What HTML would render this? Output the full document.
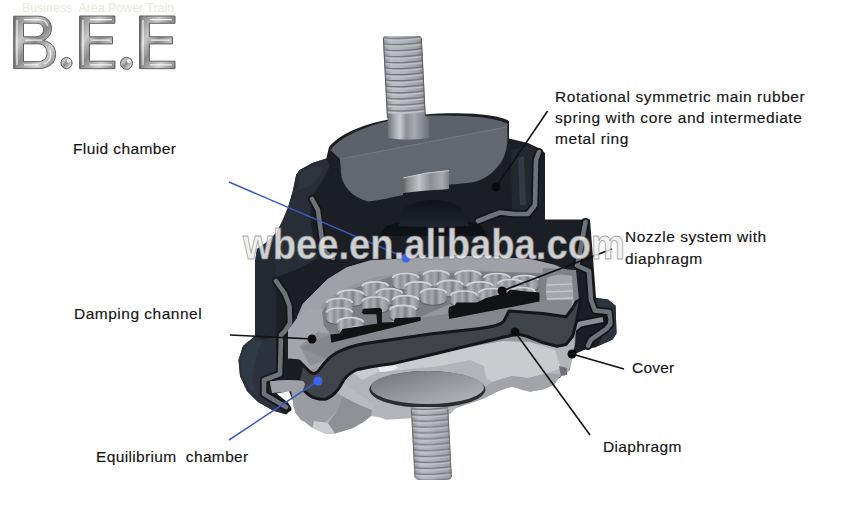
<!DOCTYPE html>
<html><head><meta charset="utf-8"><style>
html,body{margin:0;padding:0;background:#fff;}
body{width:868px;height:519px;overflow:hidden;position:relative;font-family:"Liberation Sans",sans-serif;}
svg{position:absolute;left:0;top:0;}
.lb{position:absolute;font-family:"Liberation Sans",sans-serif;font-size:15.5px;color:#141414;-webkit-text-stroke:0.15px #141414;white-space:nowrap;line-height:21px;}
</style></head><body>
<svg width="868" height="519" viewBox="0 0 868 519">
<defs>
<linearGradient id="bolt" x1="0" x2="1" y1="0" y2="0">
<stop offset="0" stop-color="#7a7d83"/><stop offset="0.2" stop-color="#a7aaaf"/><stop offset="0.5" stop-color="#9a9da2"/><stop offset="0.8" stop-color="#8a8d92"/><stop offset="1" stop-color="#74777d"/>
</linearGradient>
<linearGradient id="shank" x1="0" x2="1" y1="0" y2="0">
<stop offset="0" stop-color="#6c6f75"/><stop offset="0.15" stop-color="#9fa2a7"/><stop offset="0.3" stop-color="#c9cbcf"/><stop offset="0.45" stop-color="#8d9095"/><stop offset="0.65" stop-color="#a5a8ad"/><stop offset="1" stop-color="#6f7278"/>
</linearGradient>
<linearGradient id="chrome" x1="0" x2="1" y1="0" y2="1">
<stop offset="0" stop-color="#7c7c7c"/><stop offset="0.3" stop-color="#c8c8c8"/><stop offset="0.5" stop-color="#8a8a8a"/><stop offset="0.75" stop-color="#d0d0d0"/><stop offset="1" stop-color="#808080"/>
</linearGradient>
<linearGradient id="bowl" x1="0" x2="1" y1="0" y2="0">
<stop offset="0" stop-color="#a4a6ac"/><stop offset="0.45" stop-color="#c0c2c7"/><stop offset="1" stop-color="#b3b5ba"/>
</linearGradient>
<linearGradient id="disc" x1="0" x2="1" y1="0" y2="1">
<stop offset="0" stop-color="#707277"/><stop offset="0.5" stop-color="#95979c"/><stop offset="1" stop-color="#b8babe"/>
</linearGradient>
<linearGradient id="plate" x1="0" x2="0" y1="0" y2="1">
<stop offset="0" stop-color="#8d8f95"/><stop offset="1" stop-color="#9fa1a6"/>
</linearGradient>
<linearGradient id="boss" x1="0" x2="1" y1="0" y2="0">
<stop offset="0" stop-color="#8a8c91"/><stop offset="0.15" stop-color="#b4b6ba"/><stop offset="0.3" stop-color="#8f9196"/><stop offset="0.45" stop-color="#a9abb0"/><stop offset="0.6" stop-color="#7e8085"/><stop offset="0.75" stop-color="#b0b2b6"/><stop offset="1" stop-color="#8c8e93"/>
</linearGradient>
<linearGradient id="dome" x1="0" x2="0" y1="0" y2="1">
<stop offset="0" stop-color="#111419"/><stop offset="0.6" stop-color="#181d25"/><stop offset="1" stop-color="#1f2631"/>
</linearGradient>
<linearGradient id="nut" x1="0" x2="1" y1="0" y2="0">
<stop offset="0" stop-color="#5f6267"/><stop offset="0.12" stop-color="#8e9095"/><stop offset="0.35" stop-color="#c2c4c7"/><stop offset="0.6" stop-color="#8a8d92"/><stop offset="0.85" stop-color="#a9abaf"/><stop offset="1" stop-color="#7c7f84"/>
</linearGradient>
<linearGradient id="boltb" x1="0" x2="1" y1="0" y2="0">
<stop offset="0" stop-color="#8d9096"/><stop offset="0.18" stop-color="#babdc1"/><stop offset="0.5" stop-color="#b0b3b7"/><stop offset="0.85" stop-color="#9fa2a7"/><stop offset="1" stop-color="#85888e"/>
</linearGradient>
<pattern id="thread" x="0" y="0" width="39" height="6.05" patternUnits="userSpaceOnUse">
<rect width="39" height="6.05" fill="url(#boltb)"/>
<path d="M0 1.6 Q14 3.6 39 0.4" stroke="#70737a" stroke-width="1.2" fill="none"/>
<path d="M0 3.4 Q14 5.4 39 2.2" stroke="#c6c9cd" stroke-width="1.1" fill="none"/>
</pattern>
<pattern id="thread2" x="0" y="0" width="39" height="5.9" patternUnits="userSpaceOnUse">
<rect width="39" height="5.9" fill="url(#boltb)"/>
<path d="M0 1.6 Q14 3.6 39 0.4" stroke="#70737a" stroke-width="1.2" fill="none"/>
<path d="M0 3.4 Q14 5.4 39 2.2" stroke="#c6c9cd" stroke-width="1.1" fill="none"/>
</pattern>
</defs>
<g id="mount">
<!-- top bolt -->
<g transform="translate(383 36) skewX(2.9)">
<rect x="0" y="0" width="38.5" height="82" rx="2" fill="url(#thread)"/>
<path d="M0.3 2 L0.3 82 M38.2 2 L38.2 82" stroke="#5d6066" stroke-width="1.1"/>
</g>

<!-- dark body -->
<path fill="#1b1f25" d="M329 147 C345 128 385 116 440 113.5 C480 112.5 500 116 509 121 L509 138.5 L528 143 L540.5 149 L545 153 L545 219.5 L590 219.5 L593.5 264 L596 297.7 L608 299.5 L615.6 305.7 L616.5 333.5 L612.5 339.6 L595.5 347.3 L584 350 L575 354 L560 378 L300 405 L289 412 L286 414.5 L274 411 L258 402 L247 391 L240 376 L238.5 360 L243 346 L255 336 L255 262 L257 249 L267.3 241.7 L276.6 232.5 L282.4 221 L288.2 207 L292.8 191 L296.2 174.7 L299.7 170 L312.4 163 L326.3 158.5 Z"/>
<!-- left shoulder face -->
<path fill="#272e37" d="M299.7 170 L312.4 163 L326.3 158.5 L330 166 L322 182 L312 196 L310 215 L314 245 L318 258 L300 268 L280 276 L262 280 L255 280 L255 262 L257 249 L267.3 241.7 L276.6 232.5 L282.4 221 L288.2 207 L292.8 191 L296.2 174.7 Z"/>
<path fill="#2e353f" d="M300 172 L314 166 L324 168 L314 184 L298 190 Z"/>
<!-- left flange outer face -->
<path fill="#29323d" d="M255 336 L276 336 L277 372 L263 377 L260 395 L278 407 L283 413 L274 411 L258 402 L247 391 L240 376 L238.5 360 L243 346 Z"/>
<path fill="#303a46" d="M244 350 L252 340 L262 340 L256 356 L252 380 L258 396 L250 390 L242 375 L241 360 Z"/>
<!-- left side vertical face -->
<path fill="#232932" d="M255 262 L262 252 L276 248 L276 336 L262 340 L255 336 Z"/>
<!-- right flange face -->
<path fill="#2a333f" d="M596 299 L608 299.5 L615.6 305.7 L616.5 333.5 L612.5 339.6 L598 346 L604 332 L610 324 L610 313 L596 308 Z"/>
<!-- right upper face -->
<path fill="#23282f" d="M511 150 L528 146 L540 151 L541 205 L530 212 L512 211 Z"/>
<path fill="#343a43" d="M518 158 L524 156 L526 205 L520 205 Z"/>

<!-- cap top face -->
<path fill="#5d6169" d="M330.5 150 C342 134 380 119 420 116 C460 114.5 495 117 508 124 L507 127 L340 159 Z"/>
<!-- cap cut face -->
<path fill="#63676e" d="M340 159 L507 126 C508.5 140 507 152 501.7 161.2 C496 170 488 177.5 476 181.5 C466 183.5 456 184.2 449.2 184.4 L449 189 L403 192 L403 195 C392 197 380 200.5 368 201.5 C352 197 342 186 341 173 Z"/>
<path d="M340 159 L507 127" stroke="#757981" stroke-width="1"/>
<!-- nut -->
<path fill="url(#nut)" d="M403 178 Q426 172 449 170.6 L449 189 Q426 190 403 193 Z"/>
<path d="M403 178 Q426 172 449 170.6" stroke="#c9cbce" stroke-width="1" fill="none"/>
<!-- bolt shank -->
<path fill="url(#shank)" d="M387.5 114 L424 114 L429 120 L429 138 Q408 141 388 138 Z"/>
<!-- dark cavity under cap -->
<path fill="#0e1115" d="M378 236 L386 226 L400 222 L470 222 L482 226 L488 236 Z"/>
<path fill="url(#dome)" d="M399 226 L401 214 Q407 201 432 200 Q456 200.5 463 210 L469 226 Q434 228 399 226 Z"/>
<!-- metal ring strips -->
<g fill="none" stroke-linejoin="round" stroke-linecap="round">
<path stroke="#121418" stroke-width="8" d="M312 199 L318 210 L322 240 L325 252 L333 258 M276 281 L285 294 L289.5 306 L290 323 L285 331 L281 335 L280 374 L264 380 L264 394 L286 407"/>
<path stroke="#6e7279" stroke-width="4.6" d="M312 199 L318 210 L322 240 L325 252 L333 258 M276 281 L285 294 L289.5 306 L290 323 L285 331 L281 335 L280 374 L264 380 L264 394 L286 407"/>
<path stroke="#121418" stroke-width="8" d="M539 152 L536 160 L535 205 L528 214 L514 214 L500 212.5 L478 221 M585.5 222 L578.6 259.4 L577 265.5 L589 271 L591 300 L595 310.5 L609.4 312 L610.4 324 L606.4 328.8 L591 339.6 L588 345.8"/>
<path stroke="#6e7279" stroke-width="4.6" d="M539 152 L536 160 L535 205 L528 214 L514 214 L500 212.5 L478 221 M585.5 222 L578.6 259.4 L577 265.5 L589 271 L591 300 L595 310.5 L609.4 312 L610.4 324 L606.4 328.8 L591 339.6 L588 345.8"/>
</g>

<!-- right cover flange strip -->
<path d="M566 336 L580 324 L604 319.5" fill="none" stroke="#121418" stroke-width="9" stroke-linejoin="round" stroke-linecap="round"/>
<path d="M566 336 L580 324 L603 319.5" fill="none" stroke="#8b8e93" stroke-width="5" stroke-linejoin="round"/>
<!-- interior silver region -->
<path fill="#94969c" d="M295 350 L295 331 L297 317.4 L302.8 304 L314.3 292.4 L327.8 279 L347 267.3 L370 260.6 L429 257 L480 256 L530 259 L555 265 L572 272 L575 300 L576 330 L575 345 L572 357 L570 370 L556 380 L537 389 L509 386 L481 396 L440 405 L411 411 L388 418 L372 415 L361 423 L328 433 L309 425 L300 410 L295 395 Z"/>
<!-- plate rim band -->
<path fill="#9fa1a7" d="M297 317 L302.8 304 L314.3 292.4 L327.8 279 L347 267.3 L370 260.6 L429 257 L480 256 L530 259 L555 265 L565 270 L540 274 L480 270 L420 271 L375 277 L345 288 L325 302 L312 318 L305 330 Z"/>
<!-- left socket -->
<path fill="#a3a5aa" d="M288 330 L297 318 L308 310 L322 308 L330 318 L334 340 L336 352 L320 366 L310 370 L300 362 L288 360 Z"/>
<path fill="#8f9196" d="M300 346 L318 332 L330 334 L334 350 L322 362 L310 366 Z"/>
<!-- holes -->
<path fill="#7b7d82" d="M322 312 L330 300 L347.6 290.6 L393.7 275.8 L480 271.5 L540 273 L556 280 L556 292 L520 290 L450 304 L420 317 L332 336 L324 326 Z"/>
<g>
<path d="M392.7 278.0 A13 4.5 0 0 1 418.7 278.0 L418.7 285.5 A13 4.5 0 0 1 392.7 285.5 Z" fill="url(#boss)"/>
<path d="M392.7 278.0 A13 4.5 0 0 1 418.7 278.0" fill="none" stroke="#d3d5d8" stroke-width="1.7"/>
<path d="M418.7 285.5 A13 4.5 0 0 1 392.7 285.5" fill="none" stroke="#5e6166" stroke-width="1.1"/>
<path d="M423.1 275.2 A13 4.5 0 0 1 449.1 275.2 L449.1 282.7 A13 4.5 0 0 1 423.1 282.7 Z" fill="url(#boss)"/>
<path d="M423.1 275.2 A13 4.5 0 0 1 449.1 275.2" fill="none" stroke="#d3d5d8" stroke-width="1.7"/>
<path d="M449.1 282.7 A13 4.5 0 0 1 423.1 282.7" fill="none" stroke="#5e6166" stroke-width="1.1"/>
<path d="M454.9 275.2 A13 4.5 0 0 1 480.9 275.2 L480.9 282.7 A13 4.5 0 0 1 454.9 282.7 Z" fill="url(#boss)"/>
<path d="M454.9 275.2 A13 4.5 0 0 1 480.9 275.2" fill="none" stroke="#d3d5d8" stroke-width="1.7"/>
<path d="M480.9 282.7 A13 4.5 0 0 1 454.9 282.7" fill="none" stroke="#5e6166" stroke-width="1.1"/>
<path d="M484.0 278.0 A13 4.5 0 0 1 510.0 278.0 L510.0 285.5 A13 4.5 0 0 1 484.0 285.5 Z" fill="url(#boss)"/>
<path d="M484.0 278.0 A13 4.5 0 0 1 510.0 278.0" fill="none" stroke="#d3d5d8" stroke-width="1.7"/>
<path d="M510.0 285.5 A13 4.5 0 0 1 484.0 285.5" fill="none" stroke="#5e6166" stroke-width="1.1"/>
<path d="M512.0 280.0 A13 4.5 0 0 1 538.0 280.0 L538.0 287.5 A13 4.5 0 0 1 512.0 287.5 Z" fill="url(#boss)"/>
<path d="M512.0 280.0 A13 4.5 0 0 1 538.0 280.0" fill="none" stroke="#d3d5d8" stroke-width="1.7"/>
<path d="M538.0 287.5 A13 4.5 0 0 1 512.0 287.5" fill="none" stroke="#5e6166" stroke-width="1.1"/>
<path d="M362.3 286.3 A13 4.5 0 0 1 388.3 286.3 L388.3 293.8 A13 4.5 0 0 1 362.3 293.8 Z" fill="url(#boss)"/>
<path d="M362.3 286.3 A13 4.5 0 0 1 388.3 286.3" fill="none" stroke="#d3d5d8" stroke-width="1.7"/>
<path d="M388.3 293.8 A13 4.5 0 0 1 362.3 293.8" fill="none" stroke="#5e6166" stroke-width="1.1"/>
<path d="M405.1 286.3 A13 4.5 0 0 1 431.1 286.3 L431.1 293.8 A13 4.5 0 0 1 405.1 293.8 Z" fill="url(#boss)"/>
<path d="M405.1 286.3 A13 4.5 0 0 1 431.1 286.3" fill="none" stroke="#d3d5d8" stroke-width="1.7"/>
<path d="M431.1 293.8 A13 4.5 0 0 1 405.1 293.8" fill="none" stroke="#5e6166" stroke-width="1.1"/>
<path d="M437.0 284.9 A13 4.5 0 0 1 463.0 284.9 L463.0 292.4 A13 4.5 0 0 1 437.0 292.4 Z" fill="url(#boss)"/>
<path d="M437.0 284.9 A13 4.5 0 0 1 463.0 284.9" fill="none" stroke="#d3d5d8" stroke-width="1.7"/>
<path d="M463.0 292.4 A13 4.5 0 0 1 437.0 292.4" fill="none" stroke="#5e6166" stroke-width="1.1"/>
<path d="M467.0 286.3 A13 4.5 0 0 1 493.0 286.3 L493.0 293.8 A13 4.5 0 0 1 467.0 293.8 Z" fill="url(#boss)"/>
<path d="M467.0 286.3 A13 4.5 0 0 1 493.0 286.3" fill="none" stroke="#d3d5d8" stroke-width="1.7"/>
<path d="M493.0 293.8 A13 4.5 0 0 1 467.0 293.8" fill="none" stroke="#5e6166" stroke-width="1.1"/>
<path d="M497.8 284.0 A13 4.5 0 0 1 523.8 284.0 L523.8 291.5 A13 4.5 0 0 1 497.8 291.5 Z" fill="url(#boss)"/>
<path d="M497.8 284.0 A13 4.5 0 0 1 523.8 284.0" fill="none" stroke="#d3d5d8" stroke-width="1.7"/>
<path d="M523.8 291.5 A13 4.5 0 0 1 497.8 291.5" fill="none" stroke="#5e6166" stroke-width="1.1"/>
<path d="M337.4 294.6 A13 4.5 0 0 1 363.4 294.6 L363.4 302.1 A13 4.5 0 0 1 337.4 302.1 Z" fill="url(#boss)"/>
<path d="M337.4 294.6 A13 4.5 0 0 1 363.4 294.6" fill="none" stroke="#d3d5d8" stroke-width="1.7"/>
<path d="M363.4 302.1 A13 4.5 0 0 1 337.4 302.1" fill="none" stroke="#5e6166" stroke-width="1.1"/>
<path d="M376.1 293.2 A13 4.5 0 0 1 402.1 293.2 L402.1 300.7 A13 4.5 0 0 1 376.1 300.7 Z" fill="url(#boss)"/>
<path d="M376.1 293.2 A13 4.5 0 0 1 402.1 293.2" fill="none" stroke="#d3d5d8" stroke-width="1.7"/>
<path d="M402.1 300.7 A13 4.5 0 0 1 376.1 300.7" fill="none" stroke="#5e6166" stroke-width="1.1"/>
<path d="M420.4 293.2 A13 4.5 0 0 1 446.4 293.2 L446.4 300.7 A13 4.5 0 0 1 420.4 300.7 Z" fill="url(#boss)"/>
<path d="M420.4 293.2 A13 4.5 0 0 1 446.4 293.2" fill="none" stroke="#d3d5d8" stroke-width="1.7"/>
<path d="M446.4 300.7 A13 4.5 0 0 1 420.4 300.7" fill="none" stroke="#5e6166" stroke-width="1.1"/>
<path d="M450.8 295.5 A13 4.5 0 0 1 476.8 295.5 L476.8 303.0 A13 4.5 0 0 1 450.8 303.0 Z" fill="url(#boss)"/>
<path d="M450.8 295.5 A13 4.5 0 0 1 476.8 295.5" fill="none" stroke="#d3d5d8" stroke-width="1.7"/>
<path d="M476.8 303.0 A13 4.5 0 0 1 450.8 303.0" fill="none" stroke="#5e6166" stroke-width="1.1"/>
<path d="M479.0 293.0 A13 4.5 0 0 1 505.0 293.0 L505.0 300.5 A13 4.5 0 0 1 479.0 300.5 Z" fill="url(#boss)"/>
<path d="M479.0 293.0 A13 4.5 0 0 1 505.0 293.0" fill="none" stroke="#d3d5d8" stroke-width="1.7"/>
<path d="M505.0 300.5 A13 4.5 0 0 1 479.0 300.5" fill="none" stroke="#5e6166" stroke-width="1.1"/>
<path d="M509.0 292.0 A13 4.5 0 0 1 535.0 292.0 L535.0 299.5 A13 4.5 0 0 1 509.0 299.5 Z" fill="url(#boss)"/>
<path d="M509.0 292.0 A13 4.5 0 0 1 535.0 292.0" fill="none" stroke="#d3d5d8" stroke-width="1.7"/>
<path d="M535.0 299.5 A13 4.5 0 0 1 509.0 299.5" fill="none" stroke="#5e6166" stroke-width="1.1"/>
<path d="M326.4 302.9 A13 4.5 0 0 1 352.4 302.9 L352.4 310.4 A13 4.5 0 0 1 326.4 310.4 Z" fill="url(#boss)"/>
<path d="M326.4 302.9 A13 4.5 0 0 1 352.4 302.9" fill="none" stroke="#d3d5d8" stroke-width="1.7"/>
<path d="M352.4 310.4 A13 4.5 0 0 1 326.4 310.4" fill="none" stroke="#5e6166" stroke-width="1.1"/>
<path d="M362.3 301.5 A13 4.5 0 0 1 388.3 301.5 L388.3 309.0 A13 4.5 0 0 1 362.3 309.0 Z" fill="url(#boss)"/>
<path d="M362.3 301.5 A13 4.5 0 0 1 388.3 301.5" fill="none" stroke="#d3d5d8" stroke-width="1.7"/>
<path d="M388.3 309.0 A13 4.5 0 0 1 362.3 309.0" fill="none" stroke="#5e6166" stroke-width="1.1"/>
<path d="M392.7 300.1 A13 4.5 0 0 1 418.7 300.1 L418.7 307.6 A13 4.5 0 0 1 392.7 307.6 Z" fill="url(#boss)"/>
<path d="M392.7 300.1 A13 4.5 0 0 1 418.7 300.1" fill="none" stroke="#d3d5d8" stroke-width="1.7"/>
<path d="M418.7 307.6 A13 4.5 0 0 1 392.7 307.6" fill="none" stroke="#5e6166" stroke-width="1.1"/>
<path d="M326.4 312.5 A13 4.5 0 0 1 352.4 312.5 L352.4 320.0 A13 4.5 0 0 1 326.4 320.0 Z" fill="url(#boss)"/>
<path d="M326.4 312.5 A13 4.5 0 0 1 352.4 312.5" fill="none" stroke="#d3d5d8" stroke-width="1.7"/>
<path d="M352.4 320.0 A13 4.5 0 0 1 326.4 320.0" fill="none" stroke="#5e6166" stroke-width="1.1"/>
<path d="M390.0 309.8 A13 4.5 0 0 1 416.0 309.8 L416.0 317.3 A13 4.5 0 0 1 390.0 317.3 Z" fill="url(#boss)"/>
<path d="M390.0 309.8 A13 4.5 0 0 1 416.0 309.8" fill="none" stroke="#d3d5d8" stroke-width="1.7"/>
<path d="M416.0 317.3 A13 4.5 0 0 1 390.0 317.3" fill="none" stroke="#5e6166" stroke-width="1.1"/>
<path d="M337.4 322.2 A13 4.5 0 0 1 363.4 322.2 L363.4 329.7 A13 4.5 0 0 1 337.4 329.7 Z" fill="url(#boss)"/>
<path d="M337.4 322.2 A13 4.5 0 0 1 363.4 322.2" fill="none" stroke="#d3d5d8" stroke-width="1.7"/>
<path d="M363.4 329.7 A13 4.5 0 0 1 337.4 329.7" fill="none" stroke="#5e6166" stroke-width="1.1"/>
<path d="M347.0 331.0 A13 4.5 0 0 1 373.0 331.0 L373.0 338.5 A13 4.5 0 0 1 347.0 338.5 Z" fill="url(#boss)"/>
<path d="M347.0 331.0 A13 4.5 0 0 1 373.0 331.0" fill="none" stroke="#d3d5d8" stroke-width="1.7"/>
<path d="M373.0 338.5 A13 4.5 0 0 1 347.0 338.5" fill="none" stroke="#5e6166" stroke-width="1.1"/>
<path d="M457.0 312.0 A13 4.5 0 0 1 483.0 312.0 L483.0 319.5 A13 4.5 0 0 1 457.0 319.5 Z" fill="url(#boss)"/>
<path d="M457.0 312.0 A13 4.5 0 0 1 483.0 312.0" fill="none" stroke="#d3d5d8" stroke-width="1.7"/>
<path d="M483.0 319.5 A13 4.5 0 0 1 457.0 319.5" fill="none" stroke="#5e6166" stroke-width="1.1"/>
<path d="M487.0 305.0 A13 4.5 0 0 1 513.0 305.0 L513.0 312.5 A13 4.5 0 0 1 487.0 312.5 Z" fill="url(#boss)"/>
<path d="M487.0 305.0 A13 4.5 0 0 1 513.0 305.0" fill="none" stroke="#d3d5d8" stroke-width="1.7"/>
<path d="M513.0 312.5 A13 4.5 0 0 1 487.0 312.5" fill="none" stroke="#5e6166" stroke-width="1.1"/>
<path d="M387.0 326.0 A13 4.5 0 0 1 413.0 326.0 L413.0 333.5 A13 4.5 0 0 1 387.0 333.5 Z" fill="url(#boss)"/>
<path d="M387.0 326.0 A13 4.5 0 0 1 413.0 326.0" fill="none" stroke="#d3d5d8" stroke-width="1.7"/>
<path d="M413.0 333.5 A13 4.5 0 0 1 387.0 333.5" fill="none" stroke="#5e6166" stroke-width="1.1"/>
</g>
<path fill="#7f8186" d="M520 300 L540 290 L543 268 L576 270 L579 300 L572.8 308 L566 316.8 L543 313.4 L510 311 Z"/>
<!-- right cylinder recess -->
<path fill="#a4a6ab" d="M547 278 Q558 272 572 276 L574 306 Q562 312 549 309 Q544 294 547 278 Z"/>
<g stroke="#c4c6ca" stroke-width="1.5"><path d="M547 285 L572 284"/><path d="M546 292 L573 291"/><path d="M547 299 L573 298"/></g>
<!-- lower interior gray zone above diaphragm -->
<path fill="#85878c" d="M300 348 L330 334 L420 318 L540 300 L572 300 L572 330 L540 335 L430 340 L360 350 L330 360 Z"/>
<!-- nozzle black shapes -->
<path fill="#111214" d="M330.3 334.5 L331.2 342.8 L420.6 320.7 L420.6 317 L394.8 318.3 L393.9 322 L381.9 322.5 L381.9 309.6 L380 307.8 L363.5 308.7 L361.6 312.4 L363.5 314.2 L376.4 314.2 L377.3 323.5 L342.3 329 L339.5 333.6 Z"/>
<path fill="#111214" d="M448.3 310.8 L449.2 319.1 L539.5 301.6 L539.5 292.4 L526.6 291.5 L510 289.6 L507.3 292.4 L486 298 L476.9 302.5 L456.6 302.5 L454.7 305.3 L449.2 307.1 Z"/>

<!-- lower bowl -->
<path fill="#b2b4b9" d="M289.7 380 L292.8 400.4 L295 412 L301 420 L305 422 L312.5 428 L326 434 L335 433.5 L353 428 L363.4 422 L371 416 L380 417.4 L386 419.7 L411 418.2 L450 414 L456 408 L483.2 398.8 L497 391.8 L505.7 388.4 L512.6 386.7 L523 390 L530 391.8 L543.7 389.2 L554 385 L561 374.6 L567.9 370.2 L571.3 364.2 L573 350.4 L574.8 338 L560 343 L430 353 L360 363 L320 388 Z"/>
<path fill="#9a9ca1" d="M290.5 386 L303 392 L316 400 L330 399 L338 392 L342 396 L338 410 L326 422 L316 424 L312.5 428 L305 422 L301 420 L295 412 L292.8 400.4 Z"/>
<path fill="#cbcdd1" d="M314 421 L328 423 L336 432 L326 434 L312.5 428 Z"/>
<path fill="#8e9095" d="M338 410 L342 396 L360 405 L372 410 L371 416 L363.4 422 L353 428 L335 433.5 L328 423 Z"/>
<path fill="#b8babf" d="M336 392 L343 384 L362 396 L374 404 L372 410 L360 405 L342 396 Z"/>
<path fill="#c9cbcf" d="M352 372 L372 362 L420 354 L470 347 L503 341 L530 342 L555 350 L561 368 L548 373 L528 378 L512 376 L492 382 L486 378 L484 366 L470 360 L440 366 L400 370 L378 372 L362 380 Z"/>
<path fill="#a2a4a9" d="M456 408 L483.2 398.8 L497 391.8 L505.7 388.4 L512.6 386.7 L523 390 L530 391.8 L543.7 389.2 L554 385 L561 374.6 L548 373 L528 378 L512 376 L492 382 L478 392 L462 400 Z"/>
<path fill="#6e7075" d="M559 366 L567 368 L567 375 L561 376 Z"/>
<path fill="#ebecee" d="M378 367 Q386 362 394 364 L398 368 Q390 372 380 372 Z"/>
<!-- diaphragm dark band -->
<path fill="#404448" stroke="#141619" stroke-width="3" stroke-linejoin="round" d="M289 360 L299 361 Q305 367 310 372 Q315 376 320 369 Q327 358 337 352.5 Q350 346 365 343.5 L430 334 L480 328.5 Q500 326 504 321 L509 311 L543 313.4 L566 316.8 L572.8 308 L576 302 L581 299 L579 308 L576.3 322 L572.8 336 L566 344.6 L557 346.3 L543.4 342.8 L526 336 L517 334 L500 338 L430 355 L394 363.4 Q370 366 356 370 Q346 375 342 383 Q336 395 326 399 Q316 400 309 395 Q302 389 297 384 L289 382 Z"/>
<path fill="#1a1c1f" d="M288 359 L299 360 L303 368 L300 380 L288 381 Z"/>
<!-- disc -->
<ellipse cx="427.4" cy="389.5" rx="58" ry="18.5" fill="#2b2d31"/>
<ellipse cx="427.4" cy="387.5" rx="56.5" ry="16.5" fill="url(#disc)"/>
<!-- cover flange and gap -->
<path fill="#9ea0a5" d="M269.7 381.5 Q288 379 303 381 L305 384 L303 391 L290 391.5 L272 393 Z"/>
<path fill="#ffffff" d="M276.6 393.5 L289 391.2 L292.8 400.4 L295 415 L291 415 L291.5 408 L288.2 402.7 Z"/>
<!-- bottom bolt -->
<g transform="translate(411 407) skewX(3)">
<path d="M0 0 L37 0 L37 70 Q36 73 33 73 L4 73 Q1 73 0 70 Z" fill="url(#thread2)"/>
<path d="M0.3 2 L0.3 70 M36.7 2 L36.7 70" stroke="#686b71" stroke-width="1"/>
</g>
</g>

<!-- leader lines -->
<g stroke="#111" stroke-width="1.6" fill="none">
<line x1="547.6" y1="111" x2="496" y2="187"/>
<line x1="230" y1="335" x2="312" y2="339"/>
<line x1="612" y1="249" x2="502" y2="291"/>
<line x1="572" y1="354" x2="624" y2="369"/>
<line x1="515" y1="332" x2="590" y2="435"/>
</g>
<g fill="#0c0c0c">
<circle cx="496" cy="187" r="4.5"/><circle cx="312" cy="339" r="4.5"/><circle cx="502" cy="291" r="4.5"/><circle cx="572" cy="354" r="4.5"/><circle cx="515" cy="332" r="4.5"/>
</g>
<g stroke="#3b5bc0" stroke-width="1.5" fill="none">
<line x1="229" y1="182" x2="406" y2="258"/>
<line x1="229" y1="440" x2="318" y2="381"/>
</g>
<g fill="#3a66f0"><circle cx="406" cy="258" r="4.5"/><circle cx="318" cy="381" r="4.5"/></g>

<!-- watermark -->
<text x="0" y="0" transform="translate(243 259) scale(0.888 1)" font-family="Liberation Sans" font-weight="bold" font-size="43" fill="rgba(240,240,240,0.85)" stroke="rgba(120,120,120,0.65)" stroke-width="1">wbee.en.alibaba.com</text>


<!-- logo -->
<text x="22" y="12" font-family="Liberation Sans" font-size="12.4" fill="#ebe7df">Business&#160; Area Power Train</text>
<g fill="url(#chrome)" stroke="#5f5f5f" stroke-width="1" fill-rule="evenodd">
<path d="M13.7 16.2 L38 16.2 C47 16.2 51.5 21.5 51.5 28.5 C51.5 34 48 38.5 43.5 40.5 C51.5 42 55.6 47.5 55.6 54.5 C55.6 63 49 68.6 38 68.6 L13.7 68.6 Z M23.5 23.2 L36 23.2 C41 23.2 43.5 25.8 43.5 29.8 C43.5 33.8 40.5 36.8 35.5 36.8 L23.5 36.8 Z M23.5 43.8 L38 43.8 C44 43.8 47 47.8 47 53 C47 58.5 43.5 61.6 37.5 61.6 L23.5 61.6 Z"/>
<path d="M79.6 16 L114.9 16 L114.9 23.3 L89.5 23.3 L89.5 36.8 L112.5 36.8 L112.5 43.9 L89.5 43.9 L89.5 61.2 L114.9 61.2 L114.9 68.7 L79.6 68.7 Z"/>
<path d="M139.5 16 L175 16 L175 23.3 L149.4 23.3 L149.4 36.8 L172.5 36.8 L172.5 43.9 L149.4 43.9 L149.4 61.2 L175 61.2 L175 68.7 L139.5 68.7 Z"/>
<circle cx="66.5" cy="63" r="5.6"/>
<circle cx="126.5" cy="63.3" r="6"/>
</g>
<g fill="none" stroke="#fafafa" stroke-width="1.2" opacity="0.9">
<path d="M17 20 L17 65 M83 20 L83 65 M143 20 L143 65"/>
<path d="M25 40.2 L42 40.2 M91 40.2 L110 40.2 M151 40.2 L170 40.2"/>
<path d="M50 50 C52 56 50 62 44 64"/>
<path d="M90 19.6 L112 19.6 M150 19.6 L172 19.6 M90 64.8 L112 64.8 M150 64.8 L172 64.8 M24 19.6 L38 19.6 C44 19.6 47 22 48 26 M24 64.8 L38 64.8"/>
</g>
<circle cx="68.8" cy="60.8" r="2" fill="#f4f4f4"/><circle cx="129" cy="61" r="2.1" fill="#f4f4f4"/>
<g fill="none" stroke="#6a6a6a" stroke-width="1.6" opacity="0.8">
<path d="M14.6 17 L14.6 68 M80.5 17 L80.5 68 M140.4 17 L140.4 68"/>
</g>
</svg>

<div class="lb" style="left:555px;top:86px;letter-spacing:0.58px">Rotational symmetric main rubber<br>spring with core and intermediate<br>metal ring</div>
<div class="lb" style="left:73px;top:138px;letter-spacing:0.4px">Fluid chamber</div>
<div class="lb" style="left:625px;top:226px;letter-spacing:0.5px;line-height:22px">Nozzle system with<br>diaphragm</div>
<div class="lb" style="left:74px;top:303px;letter-spacing:0.5px">Damping channel</div>
<div class="lb" style="left:632px;top:357px;letter-spacing:0.2px">Cover</div>
<div class="lb" style="left:603px;top:436px;letter-spacing:0.32px">Diaphragm</div>
<div class="lb" style="left:96px;top:446px;letter-spacing:0.35px">Equilibrium&#160; chamber</div>
</body></html>
